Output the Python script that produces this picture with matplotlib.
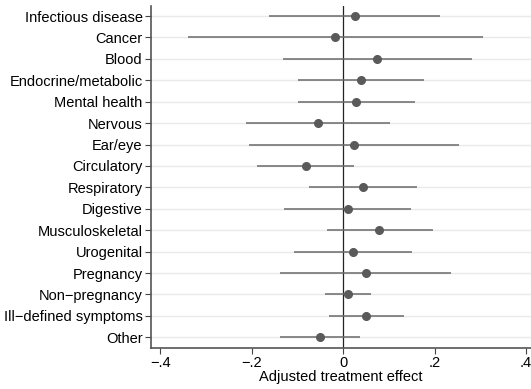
import numpy as np
import matplotlib
matplotlib.use('Agg')
import matplotlib.pyplot as plt

plt.rcParams['font.family'] = ['Liberation Sans', 'DejaVu Sans']

categories = ['Infectious disease', 'Cancer', 'Blood', 'Endocrine/metabolic',
              'Mental health', 'Nervous', 'Ear/eye', 'Circulatory',
              'Respiratory', 'Digestive', 'Musculoskeletal', 'Urogenital',
              'Pregnancy', 'Non\u2212pregnancy', 'Ill\u2212defined symptoms', 'Other']
effect = [0.026, -0.017, 0.075, 0.040, 0.029, -0.055, 0.023, -0.082,
          0.043, 0.010, 0.079, 0.021, 0.050, 0.010, 0.051, -0.050]
ci_low = [-0.162, -0.340, -0.132, -0.098, -0.098, -0.212, -0.206, -0.188,
          -0.075, -0.129, -0.036, -0.107, -0.137, -0.040, -0.031, -0.137]
ci_high = [0.213, 0.307, 0.283, 0.178, 0.157, 0.102, 0.254, 0.024,
           0.161, 0.149, 0.196, 0.150, 0.237, 0.062, 0.133, 0.037]
xticks = [-0.4, -0.2, 0, 0.2, 0.4]
xticklabels = ['\u2212.4', '\u2212.2', '0', '.2', '.4']

fig = plt.figure(figsize=(5.31, 3.89), dpi=100)
ax = fig.add_axes([151 / 531, 1 - 348 / 389, 380 / 531, 342 / 389])

y = np.arange(len(categories))
for yy in y:
    ax.axhline(yy, color='#eaeaea', lw=1.0, zorder=0)
ax.axvline(0, color='#222222', lw=0.9, zorder=1)
ax.hlines(y, ci_low, ci_high, color='#6a6a6a', lw=1.1, zorder=2)
ax.plot(effect, y, 'o', color='#5a5a5a', ms=5.5, zorder=3)

ax.set_ylim(len(categories) - 0.5, -0.47)
ax.set_xlim(-0.42, 0.411)
ax.set_yticks(y)
ax.set_yticklabels(categories, fontsize=10.5)
ax.set_xticks(xticks)
ax.set_xticklabels(xticklabels, fontsize=10.5)
ax.set_xlabel('Adjusted treatment effect', fontsize=10.5, labelpad=0)

for s in ['top', 'right']:
    ax.spines[s].set_visible(False)
for s in ['left', 'bottom']:
    ax.spines[s].set_color('#555555')
    ax.spines[s].set_linewidth(1.2)
ax.tick_params(length=4, width=0.8, color='#444444', pad=2)

fig.savefig('out.png', dpi=100)
